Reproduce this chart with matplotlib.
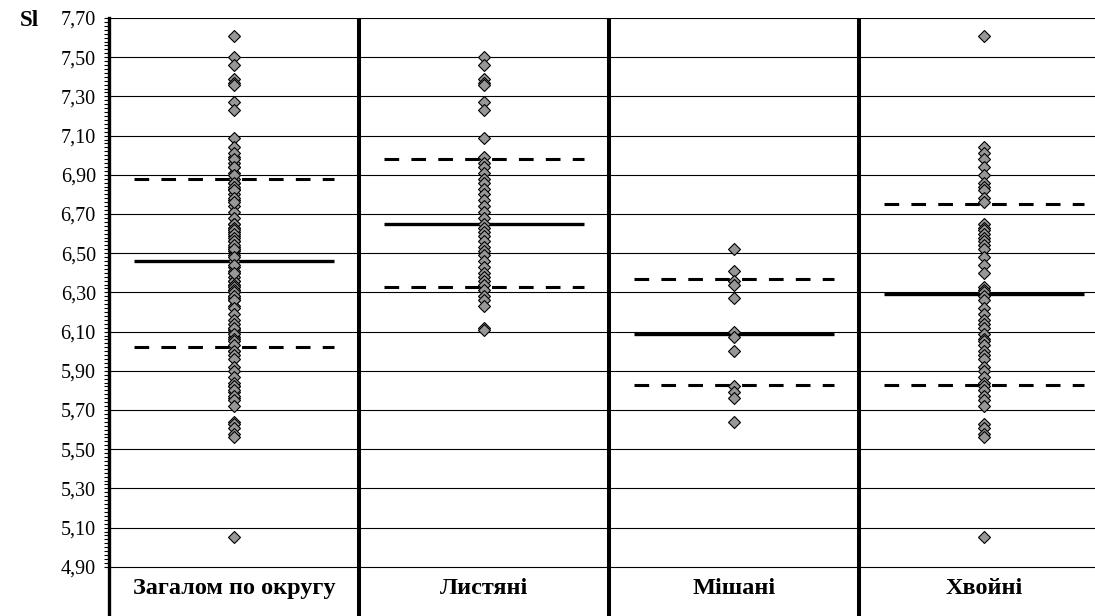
import matplotlib
matplotlib.use("Agg")
import matplotlib.pyplot as plt
from matplotlib.ticker import FixedLocator, FuncFormatter

# Sl values per forest type
leafy = [7.50, 7.46, 7.39, 7.37, 7.36, 7.27, 7.23, 7.09, 6.99, 6.96, 6.94, 6.91,
         6.88, 6.86, 6.83, 6.80, 6.77, 6.74, 6.71, 6.68, 6.65, 6.63, 6.61, 6.59,
         6.56, 6.53, 6.51, 6.49, 6.46, 6.43, 6.40, 6.38, 6.36, 6.34, 6.31, 6.28,
         6.26, 6.23, 6.12, 6.11]
mixed = [6.52, 6.41, 6.36, 6.34, 6.27, 6.10, 6.07, 6.00, 5.82, 5.79, 5.76, 5.64]
conifer = [7.61, 7.04, 7.01, 6.98, 6.94, 6.90, 6.86, 6.84, 6.82, 6.78, 6.76, 6.65,
           6.63, 6.62, 6.60, 6.58, 6.56, 6.54, 6.52, 6.48, 6.44, 6.40, 6.33, 6.31,
           6.30, 6.28, 6.26, 6.22, 6.19, 6.16, 6.14, 6.12, 6.09, 6.06, 6.05, 6.03,
           6.00, 5.98, 5.96, 5.92, 5.90, 5.87, 5.84, 5.82, 5.80, 5.77, 5.75, 5.72,
           5.63, 5.61, 5.58, 5.56, 5.05]
district = leafy + mixed + conifer

categories = ["Загалом по округу", "Листяні", "Мішані", "Хвойні"]
groups = [district, leafy, mixed, conifer]
means = [6.46, 6.65, 6.09, 6.29]
upper = [6.88, 6.98, 6.37, 6.75]
lower = [6.02, 6.33, 5.83, 5.83]

yticks = [4.90 + 0.2 * k for k in range(15)]

plt.rcParams["font.family"] = ["Liberation Serif", "DejaVu Serif"]

fig = plt.figure(figsize=(10.95, 6.16), dpi=100)
ax = fig.add_axes([109 / 1095, 0, 1000 / 1095, 1 - 18 / 616])
ax.set_xlim(0.5, 4.5)
ax.set_ylim(4.649, 7.70)

for y in yticks:
    ax.axhline(y, color="black", lw=0.8, zorder=1)

for k in range(1, 4):
    ax.axvline(k + 0.5, color="black", lw=2.9, zorder=2)

for i, (vals, m, hi, lo) in enumerate(zip(groups, means, upper, lower), start=1):
    ax.hlines(m, i - 0.4, i + 0.4, color="black", lw=2.4, zorder=3)
    for b in (hi, lo):
        ax.plot([i - 0.4, i + 0.4], [b, b], color="black", lw=2.2,
                dashes=(4.8, 4.0), zorder=3)
    ax.plot([i] * len(vals), vals, linestyle="none", marker="D", ms=6.3,
            mfc="#979797", mec="black", mew=0.8, zorder=4)
    ax.text(i, 4.79, categories[i - 1], ha="center", va="center",
            fontsize=17.5, fontweight="bold")

for side in ("top", "right", "bottom"):
    ax.spines[side].set_visible(False)
ax.spines["left"].set_linewidth(2.4)
ax.set_xticks([])
ax.yaxis.set_major_locator(FixedLocator(yticks))
ax.yaxis.set_minor_locator(FixedLocator([4.90 + 0.02 * k for k in range(141)]))
ax.yaxis.set_major_formatter(FuncFormatter(lambda v, _: f"{v:.2f}".replace(".", ",")))
ax.tick_params(axis="y", which="both", direction="out", length=3.5, width=0.8)
ax.tick_params(axis="y", which="major", labelsize=14.5, pad=6)

fig.text(20 / 1095, 1 - 20 / 616, "Sl", fontsize=16.5, fontweight="bold",
         ha="left", va="center")

fig.savefig("out.png", dpi=100)
